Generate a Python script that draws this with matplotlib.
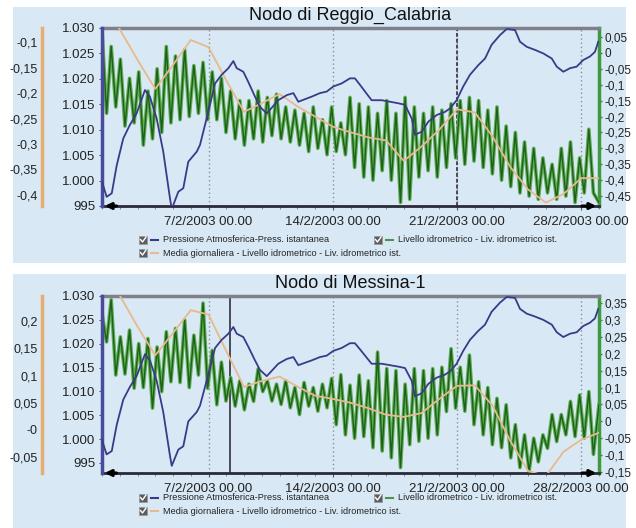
import numpy as np
import matplotlib
matplotlib.use('Agg')
import matplotlib.pyplot as plt
from matplotlib.patches import Rectangle
from matplotlib.lines import Line2D

plt.rcParams['font.family'] = ['Liberation Sans', 'DejaVu Sans']

W, H = 636, 528
BG = '#d8e9f5'
C_PRES = '#3b3a88'
C_GREEN = '#2f8a2f'
C_GREEN_D = '#1d5f1d'
C_ORANGE = '#e8b98c'

# ---------------- data ----------------
x_tick_days = [6, 13, 20, 27]
x_tick_labels = ['7/2/2003 00.00', '14/2/2003 00.00', '21/2/2003 00.00', '28/2/2003 00.00']

# Atmospheric pressure (hPa), days since 1/2/2003
pres_days = [0.0, 0.26, 0.55, 0.83, 1.20, 1.58, 1.95, 2.42, 2.70, 3.08, 3.45, 3.83, 3.93,
             4.30, 4.58, 4.86, 5.34, 5.52, 5.80, 6.08, 6.37, 6.74, 7.12, 7.40, 7.59, 7.96,
             8.24, 8.62, 8.90, 9.28, 9.46, 9.93, 10.41, 10.78, 11.06, 11.81, 12.28, 12.66,
             13.03, 13.50, 13.97, 14.25, 14.54, 14.82, 15.19, 15.76, 16.23, 16.69, 17.07,
             17.45, 17.63, 18.01, 18.39, 18.86, 19.32, 19.61, 19.98, 20.35, 20.73, 21.20,
             21.58, 21.95, 22.42, 22.80, 23.27, 23.55, 23.93, 24.39, 24.86, 25.34, 25.62,
             25.99, 26.37, 26.74, 27.11, 27.49, 27.77, 27.96]
pres_vals = [999.8, 996.8, 997.5, 1003.0, 1008.3, 1011.0, 1013.2, 1017.8, 1016.5, 1012.2,
             1005.7, 996.5, 994.4, 997.8, 998.5, 1003.7, 1005.7, 1007.0, 1010.9, 1014.9,
             1019.1, 1020.8, 1022.1, 1023.5, 1022.1, 1021.4, 1019.4, 1016.5, 1014.5, 1013.2,
             1013.9, 1015.8, 1016.8, 1017.2, 1015.5, 1016.5, 1017.2, 1017.5, 1018.5, 1019.1,
             1020.1, 1020.1, 1018.8, 1017.5, 1015.8, 1015.8, 1015.5, 1015.2, 1014.9, 1012.2,
             1009.0, 1009.6, 1011.6, 1012.9, 1013.5, 1014.2, 1015.8, 1018.5, 1020.8, 1022.7,
             1024.0, 1026.7, 1028.6, 1029.8, 1029.6, 1027.3, 1026.3, 1025.7, 1025.0, 1024.0,
             1022.4, 1021.4, 1022.1, 1022.4, 1023.7, 1024.4, 1025.3, 1027.3]

# Daily mean water level (m), one value per day 1/2 .. 1/3
mean_days = list(range(29))
rc_mean = [-0.02, -0.075, -0.135, -0.192, -0.145, -0.096, -0.110, -0.175, -0.237, -0.220,
           -0.202, -0.226, -0.246, -0.266, -0.277, -0.287, -0.293, -0.333, -0.305, -0.272,
           -0.232, -0.238, -0.285, -0.345, -0.389, -0.415, -0.398, -0.367, -0.367]
me_mean = [0.30, 0.247, 0.19, 0.137, 0.178, 0.22, 0.212, 0.145, 0.079, 0.090, 0.098, 0.080,
           0.063, 0.057, 0.050, 0.040, 0.028, 0.024, 0.031, 0.057, 0.081, 0.082, 0.045,
           -0.02, -0.075, -0.085, -0.040, -0.018, -0.005]

# Instantaneous water level: successive tidal highs / lows (m)
TIDE_PERIOD = 12.42 / 24.0
rc_high = [0.07, 0.02, -0.02, -0.08, -0.06, -0.12, -0.05, 0.02, -0.01, 0.01, -0.04, -0.03,
           -0.06, -0.08, -0.12, -0.15, -0.15, -0.12, -0.14, -0.13, -0.17, -0.18, -0.19, -0.17,
           -0.21, -0.17, -0.22, -0.14, -0.16, -0.17, -0.19, -0.15, -0.19, -0.14, -0.17, -0.19,
           -0.17, -0.18, -0.16, -0.15, -0.14, -0.15, -0.18, -0.17, -0.23, -0.25, -0.28, -0.30,
           -0.33, -0.35, -0.30, -0.28, -0.33, -0.24]
rc_low = [-0.19, -0.17, -0.23, -0.22, -0.29, -0.27, -0.25, -0.22, -0.21, -0.20, -0.19, -0.21,
          -0.21, -0.25, -0.27, -0.29, -0.27, -0.28, -0.26, -0.27, -0.28, -0.29, -0.31, -0.30,
          -0.32, -0.31, -0.32, -0.36, -0.39, -0.40, -0.37, -0.40, -0.47, -0.46, -0.39, -0.37,
          -0.39, -0.36, -0.33, -0.35, -0.34, -0.36, -0.38, -0.40, -0.42, -0.44, -0.45, -0.46,
          -0.44, -0.46, -0.45, -0.47, -0.44, -0.44]
rc_end = -0.47
me_high = [0.32, 0.36, 0.25, 0.27, 0.23, 0.245, 0.22, 0.265, 0.275, 0.30, 0.255, 0.35, 0.21,
           0.175, 0.13, 0.12, 0.11, 0.155, 0.12, 0.11, 0.12, 0.10, 0.115, 0.10, 0.11, 0.127,
           0.138, 0.107, 0.137, 0.12, 0.205, 0.156, 0.15, 0.11, 0.156, 0.15, 0.156, 0.16, 0.215,
           0.16, 0.196, 0.117, 0.10, 0.068, 0.049, -0.01, -0.04, -0.05, -0.04, 0.02, 0.02,
           0.059, 0.078, 0.088]
me_low = [0.235, 0.137, 0.14, 0.098, 0.10, 0.039, 0.088, 0.117, 0.115, 0.10, 0.137, 0.098,
          0.049, 0.06, 0.045, 0.034, 0.059, 0.088, 0.06, 0.05, 0.04, 0.02, 0.045, 0.03, 0.04,
          -0.01, -0.04, -0.05, -0.045, -0.078, -0.088, -0.108, -0.137, -0.069, -0.059, -0.05,
          -0.04, 0.029, 0.039, 0.03, -0.01, -0.04, -0.069, -0.078, -0.108, -0.137, -0.147,
          -0.12, -0.08, -0.06, -0.04, -0.045, -0.05, -0.098]
me_end = 0.05

pres_ticks = [995, 1000, 1005, 1010, 1015, 1020, 1025, 1030]
pres_labels = ['995', '1.000', '1.005', '1.010', '1.015', '1.020', '1.025', '1.030']

rc_mean_ticks = [-0.1, -0.15, -0.2, -0.25, -0.3, -0.35, -0.4]
rc_mean_labels = ['-0,1', '-0,15', '-0,2', '-0,25', '-0,3', '-0,35', '-0,4']
rc_lev_ticks = [0.05, 0, -0.05, -0.1, -0.15, -0.2, -0.25, -0.3, -0.35, -0.4, -0.45]
rc_lev_labels = ['0,05', '0', '-0,05', '-0,1', '-0,15', '-0,2', '-0,25', '-0,3', '-0,35', '-0,4', '-0,45']

me_mean_ticks = [0.2, 0.15, 0.1, 0.05, 0.0, -0.05]
me_mean_labels = ['0,2', '0,15', '0,1', '0,05', '-0', '-0,05']
me_lev_ticks = [0.35, 0.3, 0.25, 0.2, 0.15, 0.1, 0.05, 0, -0.05, -0.1, -0.15]
me_lev_labels = ['0,35', '0,3', '0,25', '0,2', '0,15', '0,1', '0,05', '0', '-0,05', '-0,1', '-0,15']

legend_labels = ['Pressione Atmosferica-Press. istantanea',
                 'Livello idrometrico - Liv. idrometrico ist.',
                 'Media giornaliera - Livello idrometrico - Liv. idrometrico ist.']


def tide_series(high, low, end):
    t, v = [], []
    for k, (h, l) in enumerate(zip(high, low)):
        t += [k * TIDE_PERIOD, (k + 0.5) * TIDE_PERIOD]
        v += [h, l]
    t.append(28.0)
    v.append(end)
    return np.array(t), np.array(v)


fig = plt.figure(figsize=(W / 100, H / 100), dpi=100)
fig.patch.set_facecolor('white')


def fx(x):
    return x / W


def fy(y):
    return 1 - y / H


# panel backgrounds
fig.patches.append(Rectangle((fx(13), fy(263)), fx(613), 256 / H, transform=fig.transFigure,
                             facecolor=BG, edgecolor='none', zorder=-10))
fig.patches.append(Rectangle((fx(13), fy(528)), fx(613), 254 / H, transform=fig.transFigure,
                             facecolor=BG, edgecolor='none', zorder=-10))


def checkbox(x, y):
    fig.patches.append(Rectangle((fx(x - 4), fy(y + 4)), fx(8), 8 / H, transform=fig.transFigure,
                                 facecolor='#5c5c5c', edgecolor='#9a9a9a', lw=0.6, zorder=5))
    fig.lines.append(Line2D([fx(x - 2.5), fx(x - 0.5), fx(x + 3)], [fy(y - 0.5), fy(y + 2), fy(y - 3)],
                            transform=fig.transFigure, color='white', lw=1.0, zorder=6))


def legend_item(x, y, color, text):
    checkbox(x, y)
    fig.lines.append(Line2D([fx(x + 8), fx(x + 15)], [fy(y), fy(y)], transform=fig.transFigure,
                            color=color, lw=1.5, zorder=6))
    fig.text(fx(x + 20), fy(y), text, fontsize=6.6, va='center', ha='left', color='#222222')


def panel(top, bottom, title, title_y, pres_lim, mean_lim, lev_lim, mean_vals, mean_ticks,
          mean_labels, lev_t, lev_v, lev_ticks, lev_labels, cursor_day, cursor_style, leg_y):
    left, right = 102, 599
    pos = [fx(left), fy(bottom), (right - left) / W, (bottom - top) / H]
    axg = fig.add_axes(pos)
    axg.set_facecolor(BG)
    axo = axg.twinx()
    axp = axg.twinx()

    # water level (right axis)
    axg.plot(lev_t, lev_v, color='#5fae4f', lw=2.6, solid_joinstyle='round', zorder=3)
    axg.plot(lev_t, lev_v, color=C_GREEN_D, lw=1.0, zorder=4)
    axg.set_xlim(0, 28)
    axg.set_ylim(*lev_lim)
    axg.yaxis.tick_right()
    axg.set_yticks(lev_ticks)
    axg.set_yticklabels(lev_labels)
    axg.tick_params(axis='y', colors=C_GREEN, labelcolor='#222222', labelsize=8.5, length=2.5,
                    width=1, pad=1.5, direction='out')
    axg.set_xticks(x_tick_days)
    axg.set_xticklabels(x_tick_labels)
    axg.set_xticks(range(0, 29), minor=True)
    axg.tick_params(axis='x', which='major', labelsize=9.5, length=3, color='#555555', pad=4,
                    labelcolor='#222222')
    axg.tick_params(axis='x', which='minor', length=2, color='#777777')
    axg.grid(axis='x', which='major', color='#8f8f8f', lw=1.0, ls=(0, (1, 2)))
    axg.set_axisbelow(True)
    axg.axvline(cursor_day, color='#4a4a55', lw=1.4, ls=cursor_style, zorder=2)
    axg.spines['left'].set_visible(False)
    axg.spines['right'].set_color('#3f9a3f')
    axg.spines['right'].set_linewidth(2.5)
    axg.spines['top'].set_color('#80808c')
    axg.spines['top'].set_linewidth(2.5)
    axg.spines['bottom'].set_color('#2a2a3a')
    axg.spines['bottom'].set_linewidth(2)

    # daily mean (outer left axis)
    axo.plot(mean_days, mean_vals, color=C_ORANGE, lw=1.3, zorder=3)
    axo.set_ylim(*mean_lim)
    axo.yaxis.tick_left()
    axo.yaxis.set_label_position('left')
    for s in ['top', 'right', 'bottom']:
        axo.spines[s].set_visible(False)
    axo.spines['left'].set_visible(True)
    axo.spines['left'].set_position(('outward', 60 * 0.72))
    axo.spines['left'].set_color('#e8ad70')
    axo.spines['left'].set_linewidth(2.5)
    axo.set_yticks(mean_ticks)
    axo.set_yticklabels(mean_labels)
    axo.tick_params(axis='y', colors='#e8ad70', labelcolor='#222222', labelsize=9, length=0,
                    pad=3)

    # pressure (inner left axis)
    axp.plot(pres_days, pres_vals, color=C_PRES, lw=1.3, zorder=4)
    axp.set_ylim(*pres_lim)
    axp.yaxis.tick_left()
    axp.yaxis.set_label_position('left')
    for s in ['top', 'right', 'bottom']:
        axp.spines[s].set_visible(False)
    axp.spines['left'].set_visible(True)
    axp.spines['left'].set_color('#4a4a9a')
    axp.spines['left'].set_linewidth(2.5)
    axp.set_yticks(pres_ticks)
    axp.set_yticklabels(pres_labels)
    axp.tick_params(axis='y', colors='#4a4a9a', labelcolor='#222222', labelsize=9.5, length=2,
                    pad=3)

    # scroll arrows on the time axis
    axp.annotate('', xy=(0.0, 0.0), xytext=(0.035, 0.0), xycoords='axes fraction',
                 arrowprops=dict(arrowstyle='-|>', color='black', lw=2.2, mutation_scale=9),
                 annotation_clip=False)
    axp.annotate('', xy=(1.0, 0.0), xytext=(0.96, 0.0), xycoords='axes fraction',
                 arrowprops=dict(arrowstyle='-|>', color='black', lw=2.2, mutation_scale=9),
                 annotation_clip=False)

    fig.text(fx((left + right) / 2), fy(title_y), title, fontsize=13, ha='center', va='center',
             color='#111111')

    legend_item(143, leg_y, C_PRES, legend_labels[0])
    legend_item(378, leg_y, '#4f8f4f', legend_labels[1])
    legend_item(143, leg_y + 13, C_ORANGE, legend_labels[2])


rc_t, rc_v = tide_series(rc_high, rc_low, rc_end)
me_t, me_v = tide_series(me_high, me_low, me_end)

panel(28, 206, 'Nodo di Reggio_Calabria', 15, (995, 1030), (-0.4216, -0.0725), (-0.481, 0.078),
      rc_mean, rc_mean_ticks, rc_mean_labels, rc_t, rc_v, rc_lev_ticks, rc_lev_labels,
      20.0, (0, (2, 1)), 240)
panel(296, 473, 'Nodo di Messina-1', 283, (992.9, 1030), (-0.079, 0.246), (-0.153, 0.371),
      me_mean, me_mean_ticks, me_mean_labels, me_t, me_v, me_lev_ticks, me_lev_labels,
      7.21, '-', 498)

fig.savefig('out.png', dpi=100, facecolor='white')
